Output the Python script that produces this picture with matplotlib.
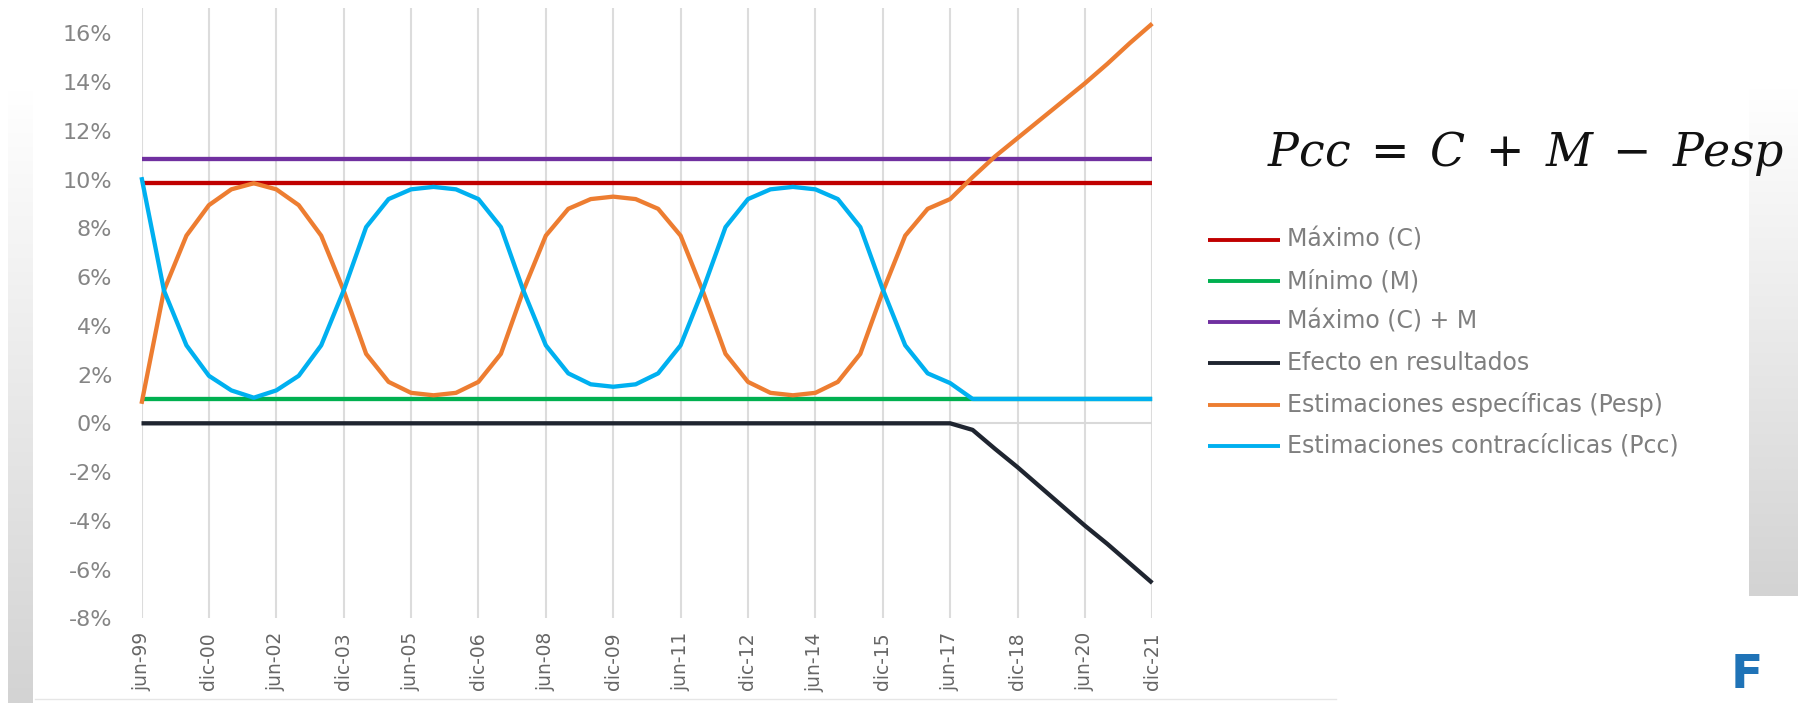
import numpy as np
import matplotlib
matplotlib.use("Agg")
import matplotlib.pyplot as plt
from matplotlib import font_manager
from matplotlib.colors import LinearSegmentedColormap

# ---- data -------------------------------------------------------------
periods = [
    "jun-99", "dic-99", "jun-00", "dic-00", "jun-01", "dic-01", "jun-02", "dic-02",
    "jun-03", "dic-03", "jun-04", "dic-04", "jun-05", "dic-05", "jun-06", "dic-06",
    "jun-07", "dic-07", "jun-08", "dic-08", "jun-09", "dic-09", "jun-10", "dic-10",
    "jun-11", "dic-11", "jun-12", "dic-12", "jun-13", "dic-13", "jun-14", "dic-14",
    "jun-15", "dic-15", "jun-16", "dic-16", "jun-17", "dic-17", "jun-18", "dic-18",
    "jun-19", "dic-19", "jun-20", "dic-20", "jun-21", "dic-21",
]
tick_labels = periods[::3]

maximo_c = 9.85      # Máximo (C)
minimo_m = 1.0       # Mínimo (M)
maximo_c_m = 10.85   # Máximo (C) + M

pesp = [0.8, 5.45, 7.7, 8.95, 9.6, 9.85, 9.6, 8.95, 7.7, 5.45,
        2.85, 1.7, 1.25, 1.15, 1.25, 1.7, 2.85, 5.45, 7.7, 8.8,
        9.2, 9.3, 9.2, 8.8, 7.7, 5.4, 2.85, 1.7, 1.25, 1.15,
        1.25, 1.7, 2.85, 5.4, 7.7, 8.8, 9.2, 10.1, 10.95, 11.7,
        12.45, 13.2, 13.95, 14.75, 15.6, 16.4]

pcc = [10.1, 5.45, 3.2, 1.95, 1.35, 1.05, 1.35, 1.95, 3.2, 5.45,
       8.05, 9.2, 9.6, 9.7, 9.6, 9.2, 8.05, 5.45, 3.2, 2.05,
       1.6, 1.5, 1.6, 2.05, 3.2, 5.5, 8.05, 9.2, 9.6, 9.7,
       9.6, 9.2, 8.05, 5.5, 3.2, 2.05, 1.65, 1.0, 1.0, 1.0,
       1.0, 1.0, 1.0, 1.0, 1.0, 1.0]

efecto = [0.0] * 37 + [-0.27, -1.05, -1.8, -2.6, -3.4, -4.2, -4.95, -5.75, -6.55]

legend_labels = ["Máximo (C)", "Mínimo (M)", "Máximo (C) + M",
                 "Efecto en resultados", "Estimaciones específicas (Pesp)",
                 "Estimaciones contracíclicas (Pcc)"]
colors = ["#c00000", "#00b050", "#7030a0", "#1f2530", "#ed7d31", "#00b0f0"]

# ---- fonts ------------------------------------------------------------
available = {f.name for f in font_manager.fontManager.ttflist}
narrow = "Liberation Sans Narrow" if "Liberation Sans Narrow" in available else "DejaVu Sans"
xtick_size = 17 if narrow == "Liberation Sans Narrow" else 13.5
plt.rcParams["font.family"] = ["DejaVu Sans"]
plt.rcParams["mathtext.fontset"] = "dejavuserif"

W, H = 1798, 703
fig = plt.figure(figsize=(W / 100, H / 100), dpi=100)
fig.patch.set_facecolor("white")

# background layer in pixel coordinates
bg = fig.add_axes([0, 0, 1, 1], zorder=0)
bg.axis("off")
grad = np.linspace(0, 1, 256).reshape(-1, 1)
gcmap = LinearSegmentedColormap.from_list("strip", ["#ffffff", "#d3d3d3"])
bg.imshow(grad, cmap=gcmap, extent=[8, 33, 703, 90], aspect="auto", interpolation="bilinear")
bg.imshow(grad, cmap=gcmap, extent=[1749, 1798, 596, 88], aspect="auto", interpolation="bilinear")
bg.plot([35, 1336], [699, 699], color="#e6e6e6", lw=1)
bg.set_xlim(0, W)
bg.set_ylim(H, 0)

# ---- main chart -------------------------------------------------------
left, right = 141.5, 1152.3
top, bottom = 8.0, 618.3
ax = fig.add_axes([left / W, 1 - bottom / H, (right - left) / W, (bottom - top) / H], zorder=1)
ax.set_facecolor("white")

x = np.arange(len(periods))
n = len(periods)
series = [np.full(n, maximo_c), np.full(n, minimo_m), np.full(n, maximo_c_m),
          np.array(efecto), np.array(pesp), np.array(pcc)]
lines = []
for vals, col, lab in zip(series, colors, legend_labels):
    ln, = ax.plot(x, vals, color=col, lw=3.1, label=lab, clip_on=False,
                  solid_joinstyle="round", solid_capstyle="butt", zorder=3)
    lines.append(ln)

ax.axhline(0, color="#d9d9d9", lw=1.5, zorder=1)
ax.set_xlim(0, n - 1)
ax.set_ylim(-8, 17.04)
ax.set_xticks(x[::3])
ax.set_xticklabels(tick_labels, rotation=90, fontsize=xtick_size, color="#666666",
                   family=narrow, va="top", ha="center")
ax.set_yticks(np.arange(-8, 17, 2))
ax.set_yticklabels([f"{v:d}%" for v in range(-8, 17, 2)], fontsize=16, color="#858585")
ax.tick_params(axis="x", length=0, pad=10)
ax.tick_params(axis="y", length=0, pad=21)
ax.grid(axis="x", color="#dcdcdc", lw=1.5, zorder=0)
ax.set_axisbelow(True)
for sp in ax.spines.values():
    sp.set_visible(False)

# ---- formula and legend ----------------------------------------------
bg.text(1267, 166, r"$Pcc\;=\;C\;+\;M\;-\;Pesp$", fontsize=33, ha="left", va="baseline",
        color="#111111")

rows = [240, 281, 322, 363, 404.5, 446]
for y, ln in zip(rows, lines):
    bg.plot([1208, 1280], [y, y], color=ln.get_color(), lw=2.8, solid_capstyle="butt")
    bg.text(1287, y, ln.get_label(), fontsize=17, color="#7f7f7f", ha="left", va="center")

bg.text(1731, 688, "F", fontsize=34, fontweight="bold", color="#1f73b7",
        family=narrow, ha="left", va="baseline")

fig.savefig("out.png", dpi=100, facecolor="white")
